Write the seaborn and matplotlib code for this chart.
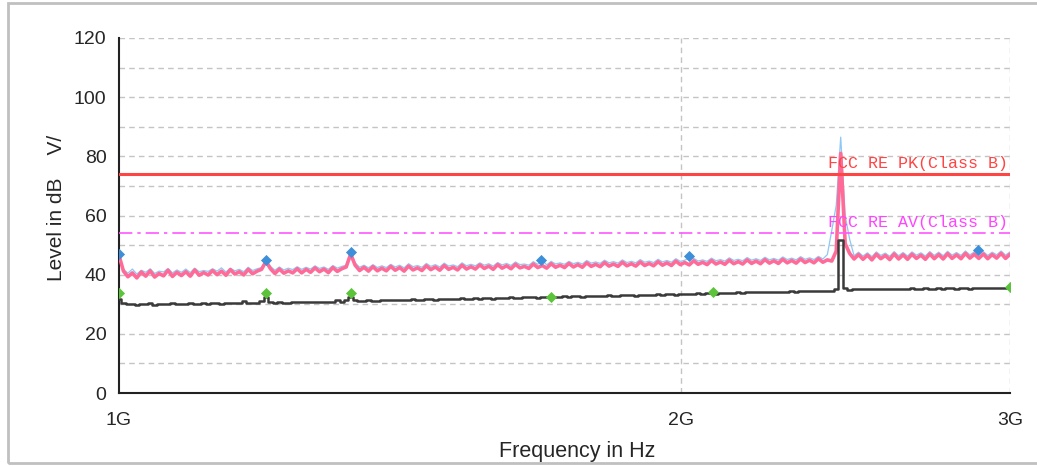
import seaborn as sns
import matplotlib.pyplot as plt
import matplotlib.ticker as mticker
from matplotlib.patches import Rectangle
import numpy as np
import pandas as pd

sns.set_style("white")
plt.rcParams["font.family"] = ["Liberation Sans", "DejaVu Sans"]

# Sweep grid: 201 points, log-spaced from 1 GHz to 3 GHz
freq = np.geomspace(1e9, 3e9, 201)

# Peak detector trace (pink), dB
peak_pink = [
    46.5, 41.2, 39.3, 40.6, 38.9, 40.9, 39.5, 41.3, 39.2, 40.4, 39.6, 41.5, 39.4, 40.8, 39.7, 41.0, 39.5, 41.6, 39.8, 40.7,
    39.9, 41.4, 40.0, 41.2, 39.8, 41.7, 40.2, 41.0, 39.9, 41.8, 40.3, 41.2, 41.8, 44.5, 42.0, 40.4, 41.9, 40.5, 41.3, 40.6,
    42.0, 40.6, 41.8, 40.8, 42.3, 41.0, 41.9, 40.7, 42.4, 41.1, 42.0, 42.6, 47.0, 43.2, 41.4, 42.5, 41.2, 42.7, 41.3, 42.2,
    41.3, 42.8, 41.5, 42.4, 41.2, 42.9, 41.6, 42.3, 41.4, 43.0, 41.7, 42.6, 41.5, 43.1, 41.8, 42.5, 41.6, 43.2, 41.9, 42.7,
    41.9, 43.3, 42.1, 42.9, 41.8, 43.4, 42.2, 43.0, 42.0, 43.5, 42.3, 42.8, 42.1, 43.6, 42.4, 43.1, 42.2, 43.7, 42.5, 43.2,
    42.4, 43.8, 42.6, 43.4, 42.5, 44.0, 42.8, 43.5, 42.7, 44.1, 42.9, 43.6, 42.8, 44.2, 43.0, 43.7, 42.9, 44.3, 43.1, 43.8,
    43.0, 44.4, 43.2, 44.0, 43.1, 44.6, 43.4, 44.1, 43.3, 44.7, 43.5, 44.2, 43.4, 44.8, 43.6, 44.3, 43.5, 44.9, 43.7, 44.4,
    43.6, 45.0, 43.8, 44.6, 43.7, 45.1, 43.9, 44.7, 43.8, 45.2, 44.0, 44.8, 43.9, 45.3, 44.1, 44.9, 44.0, 45.4, 44.2, 45.0,
    44.6, 48.0, 81.0, 50.5, 47.2, 45.3, 46.8, 45.2, 46.6, 45.0, 46.9, 45.4, 46.5, 45.1, 47.0, 45.3, 46.7, 45.2, 46.9, 45.5,
    46.6, 45.2, 47.0, 45.4, 46.8, 45.3, 47.1, 45.5, 46.7, 45.4, 47.2, 45.6, 46.9, 45.5, 47.0, 45.4, 46.8, 45.6, 47.2, 45.5,
    46.9,
]

# Max-hold trace (light blue), dB
peak_blue = [
    47.0, 41.8, 40.5, 41.9, 40.2, 41.5, 40.8, 42.0, 40.4, 41.2, 40.9, 42.1, 40.6, 41.6, 40.8, 41.9, 40.7, 42.2, 41.0, 41.4,
    41.1, 42.0, 41.2, 42.3, 40.9, 42.2, 41.3, 41.8, 41.0, 42.5, 41.4, 42.0, 42.4, 45.0, 42.8, 41.5, 42.6, 41.6, 42.2, 41.7,
    42.7, 41.8, 42.5, 41.9, 43.0, 42.1, 42.6, 41.8, 43.1, 42.2, 42.8, 43.2, 47.6, 44.0, 42.5, 43.2, 42.3, 43.4, 42.4, 43.0,
    42.4, 43.5, 42.6, 43.2, 42.3, 43.7, 42.7, 43.1, 42.5, 43.8, 42.8, 43.4, 42.6, 43.9, 42.9, 43.3, 42.7, 44.0, 43.0, 43.5,
    43.0, 44.0, 43.2, 43.7, 42.9, 44.1, 43.3, 43.8, 43.1, 44.3, 43.4, 43.6, 43.2, 44.4, 43.5, 44.9, 43.3, 44.5, 43.6, 44.0,
    43.5, 44.5, 43.7, 44.2, 43.6, 44.8, 43.9, 44.3, 43.8, 44.9, 44.0, 44.4, 43.9, 45.0, 44.1, 44.5, 44.0, 45.1, 44.2, 44.6,
    44.1, 45.2, 44.3, 44.8, 44.2, 45.4, 44.5, 44.9, 45.6, 45.5, 44.6, 45.0, 44.5, 45.6, 44.7, 45.1, 44.6, 45.7, 44.8, 45.2,
    44.7, 45.8, 44.9, 45.4, 44.8, 45.9, 45.0, 45.5, 44.9, 46.0, 45.1, 45.6, 45.0, 46.1, 45.2, 45.7, 45.1, 46.2, 45.3, 46.8,
    55.0, 63.5, 86.5, 60.0, 52.0, 46.4, 47.6, 46.3, 47.4, 46.1, 47.7, 46.5, 47.3, 46.2, 47.8, 46.4, 47.5, 46.3, 47.7, 46.6,
    47.4, 46.3, 47.8, 46.5, 47.6, 46.4, 47.9, 46.6, 47.5, 46.5, 48.0, 46.7, 47.7, 48.3, 47.8, 46.5, 47.6, 46.7, 48.0, 46.6,
    47.7,
]

# Average detector trace (dark), dB
average = [
    31.8, 30.5, 30.0, 30.2, 29.9, 30.1, 30.0, 30.3, 29.9, 30.2, 30.1, 30.0, 30.3, 30.1, 30.2, 30.0, 30.3, 30.2, 30.1, 30.3,
    30.2, 30.4, 30.3, 30.2, 30.4, 30.3, 30.5, 30.4, 31.2, 30.4, 30.5, 30.4, 31.0, 32.6, 30.9, 30.4, 30.6, 30.5, 30.4, 30.6,
    30.7, 30.6, 30.8, 30.7, 30.6, 30.8, 30.9, 30.7, 30.8, 31.3, 30.9, 31.4, 32.6, 31.5, 31.0, 31.1, 31.3, 31.0, 31.2, 31.3,
    31.4, 31.3, 31.5, 31.6, 31.4, 31.5, 31.7, 31.6, 31.5, 31.7, 31.8, 31.6, 31.7, 31.9, 31.8, 31.7, 31.9, 32.0, 31.8, 31.9,
    32.0, 31.9, 32.1, 32.0, 31.9, 32.1, 32.2, 32.1, 32.3, 32.2, 32.1, 32.3, 32.4, 32.3, 32.2, 32.4, 32.5, 32.6, 32.5, 32.6,
    32.7, 32.6, 32.8, 32.7, 32.6, 32.8, 32.9, 32.8, 32.7, 32.9, 33.0, 32.9, 32.8, 33.0, 33.1, 33.0, 32.9, 33.1, 33.2, 33.1,
    33.2, 33.3, 33.2, 33.4, 33.3, 33.2, 33.4, 33.5, 33.6, 33.5, 33.7, 33.6, 33.8, 33.7, 33.6, 33.8, 33.9, 33.8, 33.9, 34.0,
    33.9, 34.0, 34.1, 34.0, 34.1, 34.2, 34.1, 34.2, 34.3, 34.2, 34.3, 34.4, 34.3, 34.4, 34.5, 34.4, 34.5, 34.6, 34.5, 34.6,
    34.6, 35.2, 51.7, 35.6, 34.9, 35.0, 35.1, 35.0, 35.2, 35.1, 35.0, 35.2, 35.1, 35.3, 35.2, 35.1, 35.3, 35.2, 35.4, 35.3,
    35.2, 35.4, 35.3, 35.2, 35.4, 35.3, 35.5, 35.4, 35.3, 35.5, 35.4, 35.3, 35.5, 35.4, 35.6, 35.5, 35.4, 35.6, 35.5, 35.4,
    35.6,
]

# Final measurement points
pk_marker_ghz = [1.0, 1.198, 1.331, 1.683, 2.02, 2.884]
pk_marker_db = [47.0, 45.0, 47.6, 45.0, 46.3, 48.3]
av_marker_ghz = [1.0, 1.198, 1.331, 1.703, 2.08, 3.0]
av_marker_db = [33.8, 33.8, 33.8, 32.4, 34.1, 35.8]

# Limit lines
pk_limit = 74
av_limit = 54
pk_label = "FCC RE PK(Class B)"
av_label = "FCC RE AV(Class B)"

y_ticks = [0, 20, 40, 60, 80, 100, 120]
x_ticks = [1e9, 2e9, 3e9]
x_ticklabels = ["1G", "2G", "3G"]

traces = pd.DataFrame({"freq": freq, "blue": peak_blue, "pink": peak_pink, "avg": average})
pk_df = pd.DataFrame({"freq": np.array(pk_marker_ghz) * 1e9, "level": pk_marker_db})
av_df = pd.DataFrame({"freq": np.array(av_marker_ghz) * 1e9, "level": av_marker_db})

fig = plt.figure(figsize=(10.37, 4.66), dpi=100)
ax = fig.add_axes([119 / 1037, 1 - 393 / 466, 891 / 1037, 355 / 466])

# grid
for y in range(10, 121, 10):
    ax.axhline(y, color="#c4c4c4", lw=1, ls=(0, (4, 3)), zorder=0)
for x in [2e9, 3e9]:
    ax.axvline(x, color="#c4c4c4", lw=1, ls=(0, (4, 3)), zorder=0)

sns.lineplot(data=traces, x="freq", y="blue", ax=ax, color="#8ec8f5", lw=0.9,
             estimator=None, zorder=2)
sns.lineplot(data=traces, x="freq", y="pink", ax=ax, color="#ff6b98", lw=2.6,
             estimator=None, zorder=3)
sns.lineplot(data=traces, x="freq", y="avg", ax=ax, color="#3a3a3a", lw=1.8,
             estimator=None, drawstyle="steps-mid", zorder=4)

ax.axhline(pk_limit, color="#ff4444", lw=2.2, zorder=5)
ax.axhline(av_limit, color="#ff55ff", lw=1.2, ls=(0, (8, 3, 2, 3)), zorder=5)

sns.scatterplot(data=pk_df, x="freq", y="level", ax=ax, marker="D", s=32,
                color="#3c8fd8", linewidth=0, zorder=6)
sns.scatterplot(data=av_df, x="freq", y="level", ax=ax, marker="D", s=32,
                color="#5cc43a", linewidth=0, zorder=6)

trans = ax.get_yaxis_transform()
ax.text(0.998, pk_limit + 1.2, pk_label, transform=trans, ha="right", va="bottom",
        color="#ff4444", fontsize=12, family="Liberation Mono", zorder=7)
ax.text(0.998, av_limit + 1.2, av_label, transform=trans, ha="right", va="bottom",
        color="#ff44ff", fontsize=12, family="Liberation Mono", zorder=7)

ax.set_xscale("log")
ax.set_xlim(1e9, 3e9)
ax.set_ylim(0, 120)
ax.set_xticks(x_ticks)
ax.set_xticklabels(x_ticklabels)
ax.xaxis.set_minor_locator(mticker.NullLocator())
ax.set_yticks(y_ticks)
ax.yaxis.set_minor_locator(mticker.MultipleLocator(10))

for side in ["top", "right"]:
    ax.spines[side].set_visible(False)
for side in ["left", "bottom"]:
    ax.spines[side].set_color("#222222")
    ax.spines[side].set_linewidth(1.5)

ax.tick_params(axis="y", which="both", direction="inout", length=10, width=1.5,
               color="#222222", labelsize=14, pad=4)
ax.tick_params(axis="x", which="major", direction="inout", length=7, width=1.2,
               color="#222222", labelsize=14, pad=10)

ax.set_xlabel("Frequency in Hz", fontsize=15.5)
ax.set_ylabel("Level in dB    V/", fontsize=15)
ax.xaxis.set_label_coords(0.514, -0.135)
ax.yaxis.set_label_coords(-0.06, 0.52)

# outer frame
fig.add_artist(Rectangle((8 / 1037, 3 / 466), 1.0, 460 / 466, transform=fig.transFigure,
                         fill=False, edgecolor="#c0c0c0", lw=2))

fig.savefig("out.png", dpi=100)
plt.close(fig)
